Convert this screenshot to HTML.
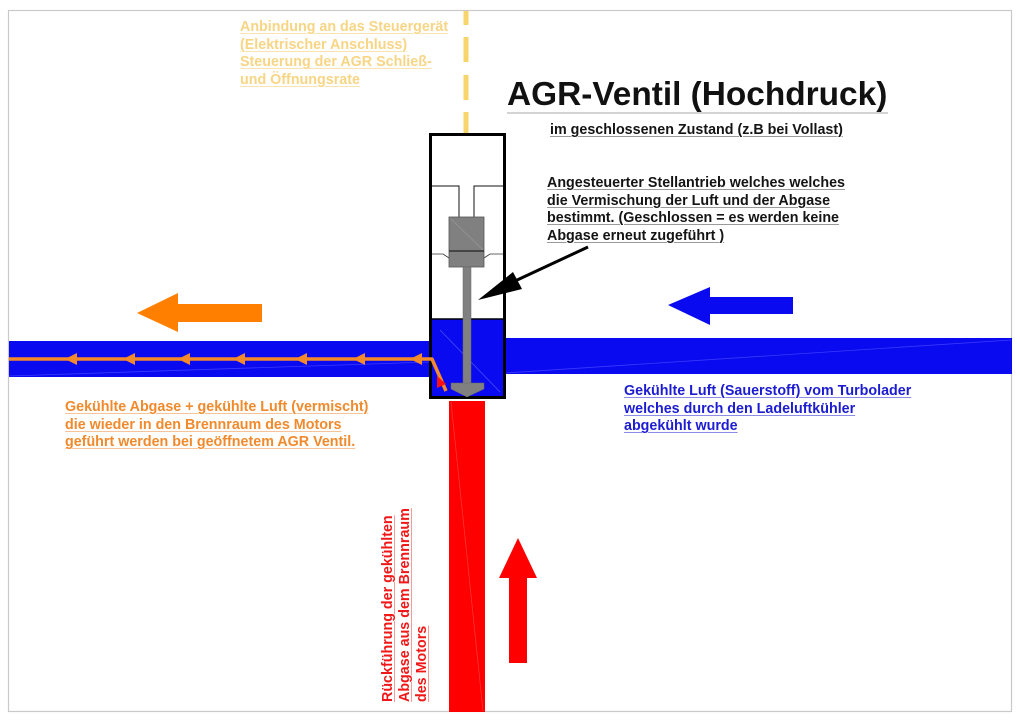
<!DOCTYPE html>
<html>
<head>
<meta charset="utf-8">
<style>
  html,body{margin:0;padding:0;background:#fff;}
  body{width:1020px;height:721px;position:relative;overflow:hidden;font-family:"Liberation Sans",Arial,sans-serif;}
  svg{position:absolute;left:0;top:0;}
  .t{position:absolute;font-weight:bold;font-size:14.3px;line-height:17.6px;white-space:nowrap;text-decoration:underline;text-underline-offset:2px;text-decoration-thickness:1px;}
  .yel{color:#f7d584;text-decoration-color:#f9e3b0;}
  .blk{color:#141414;text-decoration-color:#9a9a9a;}
  .org{color:#f08a2c;text-decoration-color:#f6c39a;}
  .blu{color:#1c1cd2;text-decoration-color:#8c8ce8;}
  .red{color:#f01818;text-decoration-color:#f79a9a;font-size:14.3px;line-height:17px;}
</style>
</head>
<body>
<svg width="1020" height="721" viewBox="0 0 1020 721" xmlns="http://www.w3.org/2000/svg">
  <!-- page border -->
  <rect x="8.5" y="10.5" width="1003" height="701" fill="none" stroke="#c9c9c9" stroke-width="1.2"/>

  <!-- dashed yellow connection line -->
  <line x1="466" y1="11" x2="466" y2="133" stroke="#f7d56b" stroke-width="5" stroke-dasharray="14 12 25 13 25 12 25 12" />

  <!-- blue pipes -->
  <rect x="9" y="341" width="421" height="36" fill="#0a0af0"/>
  <rect x="505" y="338" width="507" height="36" fill="#0a0af0"/>
  <line x1="9" y1="376" x2="430" y2="362" stroke="#3a3aff" stroke-width="0.8"/>
  <line x1="505" y1="373" x2="1011" y2="340" stroke="#3a3aff" stroke-width="0.8"/>

  <!-- red pipe -->
  <rect x="449" y="401" width="36" height="311" fill="#ff0000"/>
  <line x1="451" y1="402" x2="483" y2="711" stroke="#ff3a3a" stroke-width="0.7"/>

  <!-- valve box -->
  <rect x="430.5" y="134.5" width="74" height="263" fill="#fff"/>
  <rect x="430" y="319" width="75" height="79" fill="#0a0af0"/>
  <line x1="440" y1="330" x2="500" y2="392" stroke="#4a4aff" stroke-width="0.8"/>
  <line x1="431" y1="319" x2="504" y2="319" stroke="#000" stroke-width="1.5"/>
  <rect x="430.5" y="134.5" width="74" height="263" fill="none" stroke="#000" stroke-width="3"/>

  <!-- inner thin lines -->
  <polyline points="432,186 459,186 459,217" fill="none" stroke="#111" stroke-width="1"/>
  <polyline points="503,186 474,186 474,217" fill="none" stroke="#111" stroke-width="1"/>
  <polyline points="432,254 443,254 449,258" fill="none" stroke="#333" stroke-width="0.8"/>
  <polyline points="503,254 490,254 484,258" fill="none" stroke="#333" stroke-width="0.8"/>

  <!-- actuator -->
  <rect x="449" y="217" width="35" height="50" fill="#808080" stroke="#555" stroke-width="0.8"/>
  <line x1="450" y1="218" x2="483" y2="250" stroke="#9a9a9a" stroke-width="0.6"/>
  <line x1="449" y1="251" x2="484" y2="251" stroke="#222" stroke-width="1.2"/>
  <rect x="463" y="267" width="8" height="117" fill="#808080" stroke="#666" stroke-width="0.5"/>
  <polygon points="451,383 484,383 484,389 467,397 451,389" fill="#808080" stroke="#666" stroke-width="0.5"/>

  <!-- black pointer arrow -->
  <line x1="588" y1="247" x2="515" y2="281" stroke="#000" stroke-width="3"/>
  <polygon points="478,300 513,272 522,289" fill="#000"/>

  <!-- orange flow line -->
  <polyline points="9,359 432,359 446,391" fill="none" stroke="#f58a2a" stroke-width="3.5" stroke-linejoin="round"/>
  <g fill="#f58a2a">
    <polygon points="65,359 77,353 77,365"/>
    <polygon points="123,359 135,353 135,365"/>
    <polygon points="178,359 190,353 190,365"/>
    <polygon points="233,359 245,353 245,365"/>
    <polygon points="295,359 307,353 307,365"/>
    <polygon points="353,359 365,353 365,365"/>
    <polygon points="410,359 422,353 422,365"/>
  </g>
  <polygon points="437,376 446,384 437,388" fill="#ff1010"/>

  <!-- big orange arrow -->
  <polygon points="137,313 178,293 178,304 262,304 262,322 178,322 178,332" fill="#ff8000"/>

  <!-- big blue arrow -->
  <polygon points="668,305 710,287 710,297 793,297 793,314 710,314 710,325" fill="#0a0af0"/>

  <!-- big red arrow -->
  <polygon points="518,538 537,578 527,578 527,663 509,663 509,578 499,578" fill="#ff0000"/>

  <!-- title -->
  <text x="507" y="105" font-family="Liberation Sans, Arial, sans-serif" font-weight="bold" font-size="33.4" fill="#111">AGR-Ventil (Hochdruck)</text>
  <line x1="507" y1="113" x2="888" y2="113" stroke="#aaa" stroke-width="1"/>
</svg>

<div class="t yel" style="left:240px;top:19px;">Anbindung an das Steuergerät<br>(Elektrischer Anschluss)<br>Steuerung der AGR Schließ-<br>und Öffnungsrate</div>

<div class="t blk" style="left:550px;top:122px;">im geschlossenen Zustand (z.B bei Vollast)</div>

<div class="t blk" style="left:547px;top:175px;">Angesteuerter Stellantrieb welches welches<br>die Vermischung der Luft und der Abgase<br>bestimmt. (Geschlossen = es werden keine<br>Abgase erneut zugeführt )</div>

<div class="t org" style="left:65px;top:399px;">Gekühlte Abgase + gekühlte Luft (vermischt)<br>die wieder in den Brennraum des Motors<br>geführt werden bei geöffnetem AGR Ventil.</div>

<div class="t blu" style="left:624px;top:383px;">Gekühlte Luft (Sauerstoff) vom Turbolader<br>welches durch den Ladeluftkühler<br>abgekühlt wurde</div>

<div class="t red" style="left:379.5px;top:702px;transform-origin:0 0;transform:rotate(-90deg);">Rückführung der gekühlten<br>Abgase aus dem Brennraum<br>des Motors</div>
</body>
</html>
